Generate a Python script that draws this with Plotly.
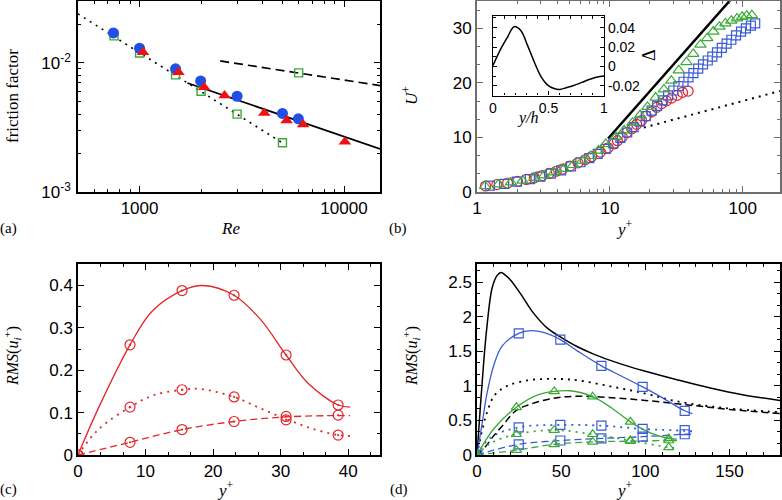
import plotly.graph_objects as go

# ---------------- (a) friction factor vs Re ----------------
re_blue = [745, 1000, 1500, 1990, 3000, 5000, 5980]
f_blue = [0.0171, 0.0130, 0.0090, 0.00726, 0.00552, 0.00406, 0.00369]
re_red = [1040, 1550, 2070, 2605, 4075, 5240, 6310, 10100]
f_red = [0.0121, 0.00847, 0.00648, 0.00559, 0.0041, 0.00358, 0.00334, 0.00245]
re_green = [750, 1000, 1500, 2000, 3000, 5000, 6000]
f_green = [0.0162, 0.01195, 0.00808, 0.00604, 0.00401, 0.00241, 0.00837]
re_lam = [500, 5000]
f_lam = [0.024, 0.0024]
re_turb = [1714, 15000]
f_turb = [0.0070, 0.00216]
re_dash = [2480, 15000]
f_dash = [0.01036, 0.00668]

# ---------------- (b) mean velocity profiles ----------------
yp_red = [1.16, 1.41, 1.7, 2.02, 2.35, 2.7, 3.1, 3.5, 3.95, 4.4, 5.0, 5.75, 6.5, 7.3, 8.5, 9.7,
          10.7, 11.4, 12.4, 13.4, 14.6, 15.9, 17.3, 18.8, 20.6, 22.5, 24.5, 26.6, 29.1, 32.1, 35.2, 38.8]
up_red = [1.1, 1.35, 1.65, 1.95, 2.3, 2.6, 3.0, 3.4, 3.8, 4.2, 4.75, 5.35, 5.9, 6.5, 7.3, 8.1,
          8.8, 9.4, 10.1, 10.9, 11.6, 12.4, 13.1, 13.9, 14.7, 15.5, 16.2, 16.7, 17.2, 17.7, 18.25, 18.5]
yp_blue = [1.25, 1.6, 2.0, 2.5, 3.0, 3.6, 4.3, 5.1, 6.0, 7.0, 8.1, 9.3, 10.6, 12.0, 13.5, 15.1, 16.8,
           18.6, 20.6, 22.7, 25.0, 27.4, 30.0, 32.8, 35.8, 39.0, 42.5, 46.2, 50.2, 54.5, 59.0, 64.0,
           69.5, 75.5, 82.0, 89.0, 97.0, 105.5, 115.0, 124.0]
up_blue = [1.15, 1.5, 1.9, 2.35, 2.8, 3.35, 3.95, 4.7, 5.45, 6.2, 7.0, 7.9, 8.9, 9.9, 10.9, 11.9, 12.9,
           13.9, 14.9, 15.8, 16.8, 17.7, 18.6, 19.4, 20.2, 21.0, 21.8, 22.6, 23.4, 24.1, 24.8, 25.6,
           26.4, 27.2, 27.9, 28.7, 29.4, 30.0, 30.5, 30.9]
yp_green = [1.15, 1.45, 1.8, 2.2, 2.7, 3.2, 3.8, 4.5, 5.3, 6.2, 7.2, 8.2, 9.3, 11.1, 12.8, 14.8, 16.9,
            19.2, 22.1, 25.5, 29.0, 33.0, 37.7, 42.4, 48.0, 54.0, 60.0, 66.7, 74.0, 82.0, 90.5, 99.0,
            107.0, 117.0]
up_green = [1.1, 1.4, 1.75, 2.1, 2.6, 3.05, 3.6, 4.25, 4.95, 5.75, 6.6, 7.6, 8.8, 10.1, 11.3, 12.7, 14.1,
            15.6, 17.3, 18.8, 20.4, 22.3, 23.8, 25.3, 27.0, 28.2, 29.4, 30.3, 30.9, 31.4, 31.8, 32.1,
            32.3, 32.4]
yp_solid = [9.7, 90.0]
up_solid = [9.8, 36.5]
yp_dot = [18.0, 190.0]
up_dot = [11.8, 18.5]

# inset: Delta vs y/h
yh_inset = [0, 0.07, 0.13, 0.19, 0.25, 0.31, 0.37, 0.43, 0.49, 0.55, 0.6, 0.66, 0.72, 0.8, 0.88, 0.94, 1.0]
delta_inset = [0.001, 0.018, 0.030, 0.041, 0.037, 0.022, 0.005, -0.010, -0.019, -0.0228, -0.0238,
               -0.022, -0.020, -0.0165, -0.013, -0.011, -0.010]

# ---------------- (c) RMS, low Re (red) ----------------
yc_mark = [0, 7.7, 15.4, 23.1, 30.8, 38.5]
c_u_mark = [0, 0.26, 0.388, 0.377, 0.236, 0.118]
c_v_mark = [0, 0.113, 0.154, 0.137, 0.083, 0.047]
c_w_mark = [0, 0.03, 0.06, 0.079, 0.091, 0.094]
yc_u = [0, 3, 7.7, 11, 15.4, 18.5, 23.1, 27, 30.8, 34, 38.5, 40.3]
c_u = [0, 0.11, 0.26, 0.34, 0.388, 0.40, 0.377, 0.32, 0.236, 0.17, 0.118, 0.113]
yc_v = [0, 3, 7.7, 11, 15.4, 18, 23.1, 27, 30.8, 34.5, 38.5, 40.3]
c_v = [0, 0.06, 0.113, 0.14, 0.154, 0.156, 0.137, 0.11, 0.085, 0.063, 0.047, 0.045]
yc_w = [0, 7.7, 15.4, 23.1, 30.8, 38.5, 40.3]
c_w = [0, 0.03, 0.06, 0.079, 0.09, 0.093, 0.093]

# ---------------- (d) RMS, higher Re ----------------
yd_k = [0, 2, 4, 6, 9, 12, 14.3, 17, 20, 25.7, 33.7, 41.6, 49.5, 59.4, 69.3, 79.2, 89.1, 99, 118.8, 138.6, 158.4, 180]
d_k_u = [0, 0.7, 1.35, 1.88, 2.42, 2.6, 2.64, 2.6, 2.53, 2.34, 2.05, 1.84, 1.71, 1.57, 1.46, 1.37, 1.29, 1.22, 1.09, 0.97, 0.87, 0.79]
yd_kv = [0, 3, 6, 10, 15, 20, 30, 40, 50, 60, 80, 100, 118, 147, 180]
d_k_v = [0, 0.35, 0.62, 0.85, 0.96, 1.02, 1.08, 1.10, 1.10, 1.08, 0.99, 0.89, 0.78, 0.68, 0.62]
yd_kw = [0, 5, 10, 15, 23, 30, 45, 60, 80, 100, 127, 150, 180]
d_k_w = [0, 0.12, 0.28, 0.42, 0.64, 0.72, 0.82, 0.85, 0.83, 0.79, 0.72, 0.66, 0.60]

yd_b_mark = [0, 24.8, 49.5, 73.9, 98.4, 123.4]
d_b_u_mark = [0, 1.76, 1.67, 1.29, 0.985, 0.64]
d_b_v_mark = [0, 0.40, 0.435, 0.425, 0.377, 0.36]
d_b_w_mark = [0, 0.155, 0.21, 0.24, 0.265, 0.30]
yd_b_u = [0, 3, 6, 10, 15, 24.8, 32, 40, 49.5, 60, 73.9, 86, 98.4, 110, 123.4, 128]
d_b_u = [0, 0.45, 0.9, 1.3, 1.58, 1.76, 1.80, 1.77, 1.67, 1.50, 1.29, 1.14, 0.985, 0.83, 0.64, 0.6]
yd_b_v = [0, 8, 24.8, 49.5, 73.9, 98.4, 123.4, 128]
d_b_v = [0, 0.25, 0.40, 0.435, 0.425, 0.377, 0.35, 0.34]
yd_b_w = [0, 10, 24.8, 49.5, 73.9, 98.4, 123.4, 128]
d_b_w = [0, 0.07, 0.155, 0.21, 0.24, 0.265, 0.30, 0.30]

yd_g_mark = [0, 23.4, 45.9, 68.7, 91.1, 113.9]
d_g_u_mark = [0, 0.69, 0.92, 0.845, 0.48, 0.24]
d_g_v_mark = [0, 0.30, 0.36, 0.30, 0.21, 0.11]
d_g_w_mark = [0, 0.07, 0.155, 0.19, 0.20, 0.21]
yd_g_u = [0, 10, 23.4, 35, 45.9, 55, 68.7, 80, 91.1, 103, 113.9, 118.8]
d_g_u = [0, 0.38, 0.69, 0.86, 0.92, 0.93, 0.845, 0.68, 0.48, 0.32, 0.24, 0.23]
yd_g_v = [0, 8, 23.4, 45.9, 68.7, 91.1, 113.9, 118.8]
d_g_v = [0, 0.17, 0.30, 0.36, 0.30, 0.21, 0.11, 0.10]
yd_g_w = [0, 23.4, 45.9, 68.7, 91.1, 113.9, 118.8]
d_g_w = [0, 0.07, 0.155, 0.19, 0.20, 0.21, 0.21]

RED = "#e3262a"
BLUE = "#3a5bd6"
GREEN = "#3aaa35"
BLUE_A = "#1f4fe6"
RED_A = "#ee1111"

fig = go.Figure()

def line(x, y, xa, ya, color="black", dash="solid", width=1.5, shape="linear"):
    fig.add_trace(go.Scatter(x=x, y=y, xaxis=xa, yaxis=ya, mode="lines",
                             line=dict(color=color, dash=dash, width=width, shape=shape),
                             hoverinfo="skip", showlegend=False))

def marks(x, y, xa, ya, symbol, color, size, lw=1.3):
    fig.add_trace(go.Scatter(x=x, y=y, xaxis=xa, yaxis=ya, mode="markers",
                             marker=dict(symbol=symbol, size=size, color=color,
                                         line=dict(color=color, width=lw)),
                             hoverinfo="skip", showlegend=False))

DOT = "2px,5px"
DASH = "7px,4px"

# (a)
line(re_lam, f_lam, "x", "y", dash=DOT, width=1.6)
line(re_turb, f_turb, "x", "y", width=1.7)
line(re_dash, f_dash, "x", "y", dash="9px,5px", width=1.7)
marks(re_green, f_green, "x", "y", "square-open", GREEN, 8, 1.4)
marks(re_blue, f_blue, "x", "y", "circle", BLUE_A, 11, 0)
marks(re_red, f_red, "x", "y", "triangle-up", RED_A, 11, 0)

# (b)
line(yp_dot, up_dot, "x2", "y2", dash=DOT, width=2)
line(yp_solid, up_solid, "x2", "y2", width=2.5)
marks(yp_red, up_red, "x2", "y2", "circle-open", RED, 10, 1.2)
marks(yp_blue, up_blue, "x2", "y2", "square-open", BLUE, 9, 1.2)
marks(yp_green, up_green, "x2", "y2", "triangle-up-open", GREEN, 10, 1.2)

# inset
line(yh_inset, delta_inset, "x5", "y5", width=1.5, shape="spline")

# (c)
line(yc_u, c_u, "x3", "y3", color=RED, width=1.3, shape="spline")
line(yc_v, c_v, "x3", "y3", color=RED, dash=DOT, width=1.8, shape="spline")
line(yc_w, c_w, "x3", "y3", color=RED, dash=DASH, width=1.3, shape="spline")
for arr in (c_u_mark, c_v_mark, c_w_mark):
    marks(yc_mark, arr, "x3", "y3", "circle-open-dot", RED, 10, 1.2)

# (d)
line(yd_k, d_k_u, "x4", "y4", width=1.5, shape="spline")
line(yd_kv, d_k_v, "x4", "y4", dash=DOT, width=1.8, shape="spline")
line(yd_kw, d_k_w, "x4", "y4", dash=DASH, width=1.5, shape="spline")
line(yd_b_u, d_b_u, "x4", "y4", color=BLUE, width=1.3, shape="spline")
line(yd_b_v, d_b_v, "x4", "y4", color=BLUE, dash=DOT, width=1.8, shape="spline")
line(yd_b_w, d_b_w, "x4", "y4", color=BLUE, dash=DASH, width=1.3, shape="spline")
line(yd_g_u, d_g_u, "x4", "y4", color=GREEN, width=1.3, shape="spline")
line(yd_g_v, d_g_v, "x4", "y4", color=GREEN, dash=DOT, width=1.8, shape="spline")
line(yd_g_w, d_g_w, "x4", "y4", color=GREEN, dash=DASH, width=1.3, shape="spline")
for arr in (d_b_u_mark, d_b_v_mark, d_b_w_mark):
    marks(yd_b_mark, arr, "x4", "y4", "square-open", BLUE, 9, 1.2)
for arr in (d_g_u_mark, d_g_v_mark, d_g_w_mark):
    marks(yd_g_mark, arr, "x4", "y4", "triangle-up-open", GREEN, 9, 1.2)

W, H = 782, 500
def px(x0, x1):
    return [x0 / W, x1 / W]
def py(top, bottom):
    return [1 - bottom / H, 1 - top / H]

SANS = "Liberation Sans"
SERIF = "Liberation Serif"
TICKFONT = dict(family=SANS, size=17, color="black")
INSETFONT = dict(family=SANS, size=14, color="black")

def ax(domain, rng, anchor, color="black", lw=1.5, typ="linear", standoff=0, **kw):
    d = dict(domain=domain, range=rng, anchor=anchor, type=typ, showgrid=False, zeroline=False,
             showline=True, linecolor=color, linewidth=lw, mirror="allticks", automargin=False,
             ticks="inside", ticklen=6, tickwidth=1.2, tickcolor=color,
             tickfont=TICKFONT, ticklabelstandoff=standoff)
    d.update(kw)
    return d

log_minor_x = [m * 10 ** e for e in (2, 3, 4) for m in range(2, 10) if 500 <= m * 10 ** e <= 15000]
log_minor_y = [m * 10 ** e for e in (-3, -2) for m in range(2, 10)]
log_minor_b = [m * 10 ** e for e in (0, 1, 2) for m in range(2, 10) if m * 10 ** e <= 200]

layout = dict(
    width=W, height=H, margin=dict(l=0, r=0, t=0, b=0, pad=0, autoexpand=False),
    paper_bgcolor="white", plot_bgcolor="white", showlegend=False,
    xaxis=ax(px(78, 380), [2.699, 4.176], "y", typ="log",
             tickmode="array", tickvals=[1000, 10000], ticktext=["1000", "10000"],
             minor=dict(tickmode="array", tickvals=log_minor_x, ticks="inside", ticklen=3, tickcolor="black")),
    yaxis=ax(py(1, 192), [-3, -1.52], "x", typ="log", standoff=2,
             tickmode="array", tickvals=[0.001, 0.01], ticktext=["10<sup>-3</sup>", "10<sup>-2</sup>"],
             minor=dict(tickmode="array", tickvals=log_minor_y, ticks="inside", ticklen=3, tickcolor="black")),
    xaxis2=ax(px(477, 780), [0, 2.28], "y2", color="#6e6e6e", lw=2, typ="log",
              tickmode="array", tickvals=[1, 10, 100], ticktext=["1", "10", "100"],
              minor=dict(tickmode="array", tickvals=log_minor_b, ticks="inside", ticklen=3, tickcolor="#6e6e6e")),
    yaxis2=ax(py(1, 192), [0, 35], "x2", color="#6e6e6e", lw=2,
              tickmode="array", tickvals=[0, 10, 20, 30],
              minor=dict(dtick=10 / 3, tick0=0, ticks="inside", ticklen=3, tickcolor="#6e6e6e")),
    xaxis5=ax(px(493, 604), [0, 1], "y5", lw=1.2,
              tickmode="array", tickvals=[0, 0.5, 1], ticktext=["0", "0.5", "1"], ticklen=4,
              tickfont=INSETFONT,
              minor=dict(dtick=0.1, tick0=0, ticks="inside", ticklen=2.5, tickcolor="black")),
    yaxis5=ax(py(16, 95.5), [-0.03, 0.052], "x5", lw=1.2, side="right",
              tickmode="array", tickvals=[-0.02, 0, 0.02, 0.04], ticktext=["-0.02", "0", "0.02", "0.04"], ticklen=4,
              tickfont=INSETFONT,
              minor=dict(dtick=0.01, tick0=0, ticks="inside", ticklen=2.5, tickcolor="black")),
    xaxis3=ax(px(78, 380), [0, 44.7], "y3",
              tickmode="array", tickvals=[0, 10, 20, 30, 40],
              minor=dict(dtick=10 / 3, tick0=0, ticks="inside", ticklen=3, tickcolor="black")),
    yaxis3=ax(py(264.3, 455), [0, 0.45], "x3",
              tickmode="array", tickvals=[0, 0.1, 0.2, 0.3, 0.4], ticktext=["0", "0.1", "0.2", "0.3", "0.4"],
              minor=dict(dtick=0.05, tick0=0, ticks="inside", ticklen=3, tickcolor="black")),
    xaxis4=ax(px(477, 780), [0, 180], "y4",
              tickmode="array", tickvals=[0, 50, 100, 150],
              minor=dict(dtick=10, tick0=0, ticks="inside", ticklen=3, tickcolor="black")),
    yaxis4=ax(py(264.3, 455), [0, 2.76], "x4",
              tickmode="array", tickvals=[0, 0.5, 1, 1.5, 2, 2.5], ticktext=["0", "0.5", "1", "1.5", "2", "2.5"],
              minor=dict(dtick=0.5 / 3, tick0=0, ticks="inside", ticklen=3, tickcolor="black")),
)
fig.update_layout(**layout)

def label(text, x, y, size=15, angle=0):
    fig.add_annotation(text=text, x=x / W, y=1 - y / H, xref="paper", yref="paper",
                       showarrow=False, xanchor="center", yanchor="middle", textangle=angle,
                       font=dict(family=SERIF, size=size, color="black"))

label("friction factor", 13, 96, 17, -90)
label("<i>Re</i>", 230, 229, 17)
label("(a)", 8, 229, 15)
label("<i>U</i><sup>+</sup>", 410, 96, 17, -90)
label("<i>y</i><sup>+</sup>", 624, 228, 17)
label("(b)", 398, 229, 15)
label("<i>y/h</i>", 528, 118, 16)
label("Δ", 649, 55, 18, -90)
label("<i>RMS</i>(<i>u</i><sub><i>i</i></sub><sup>+</sup>)", 12, 356, 16, -90)
label("<i>y</i><sup>+</sup>", 225, 489, 17)
label("(c)", 8, 489, 15)
label("<i>RMS</i>(<i>u</i><sub><i>i</i></sub><sup>+</sup>)", 411, 356, 16, -90)
label("<i>y</i><sup>+</sup>", 624, 489, 17)
label("(d)", 399, 489, 15)

fig.write_html("out.html", config={"displayModeBar": False},
               post_script="document.body.style.margin='0px';document.body.style.overflow='hidden';")
